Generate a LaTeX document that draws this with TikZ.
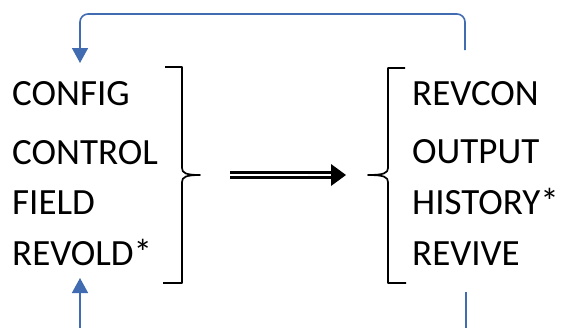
\documentclass[tikz,border=0pt]{standalone}
\usepackage{fontspec}
\setmainfont{Carlito}
\usetikzlibrary{arrows.meta}
\definecolor{flowblue}{RGB}{66,108,178}
\tikzset{
  label/.style={inner sep=0pt, anchor=base west, font=\fontsize{37}{40}\selectfont},
  brace/.style={line width=1.7pt, line join=round},
  flow/.style={draw=flowblue, line width=1.6pt, rounded corners=8pt,
    -{Triangle[width=16pt,length=15pt]}},
  bigarrow/.style={line width=3pt, double=white, double distance=2.6pt},
}
\begin{document}
\begin{tikzpicture}[x=1pt,y=-1pt]
\useasboundingbox (0,0) rectangle (565,327);
\clip (0,0) rectangle (565,327);

% input files
\node[label] (config)  at (12,105) {CONFIG};
\node[label] (control) at (12,164) {CONTROL};
\node[label] (field)   at (12,214) {FIELD};
\node[label] (revold)  at (12,265) {REVOLD*};

% output files
\node[label] (revcon)  at (412,105) {REVCON};
\node[label] (output)  at (412,163) {OUTPUT};
\node[label] (history) at (412,214) {HISTORY*};
\node[label] (revive)  at (412,265) {REVIVE};

% closing brace round the inputs
\draw[brace] (165,67) -- (182,67) -- (182,168)
  .. controls (182,173) and (186,175) .. (200,175)
  .. controls (186,175) and (182,177) .. (182,182)
  -- (182,283) -- (163,283);

% opening brace round the outputs
\draw[brace] (405,68) -- (388,68) -- (388,168)
  .. controls (388,173) and (384,175) .. (368,175)
  .. controls (384,175) and (388,177) .. (388,182)
  -- (388,283) -- (406,283);

% run arrow
\coordinate (runS) at (230,175);
\coordinate (runE) at (346,175);
\draw[bigarrow] (runS) -- ([xshift=-13pt]runE);
\fill ([xshift=-15pt,yshift=-11pt]runE) -- (runE) -- ([xshift=-15pt,yshift=11pt]runE) -- cycle;

% REVCON feeds back into CONFIG
\coordinate (revconTop) at (465,50);
\coordinate (configTop) at (80,63);
\draw[flow] (revconTop) -- (465,14) -- (80,14) -- (configTop);

% REVIVE feeds back into REVOLD*
\coordinate (reviveBot) at (466,292);
\coordinate (revoldBot) at (80,278);
\draw[flow] (reviveBot) -- (466,345) -- (80,345) -- (revoldBot);
\end{tikzpicture}
\end{document}
